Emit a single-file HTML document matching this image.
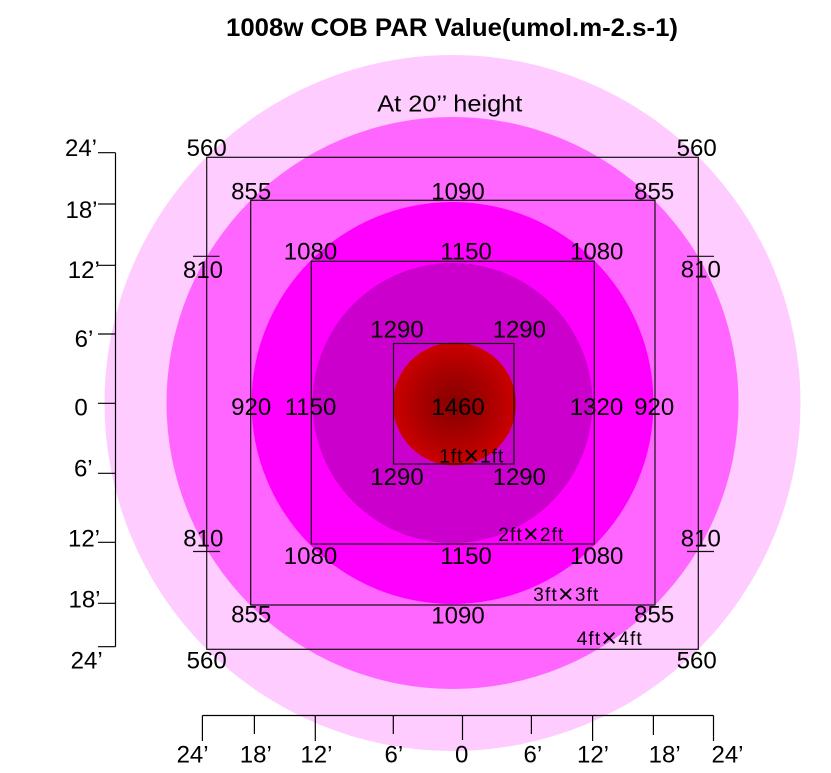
<!DOCTYPE html>
<html>
<head>
<meta charset="utf-8">
<style>
html,body{margin:0;padding:0;background:#fff;}
svg{display:block;}
text{font-family:"Liberation Sans","Noto Sans CJK SC",sans-serif;fill:#000;}
</style>
</head>
<body>
<svg width="831" height="773" viewBox="0 0 831 773" xmlns="http://www.w3.org/2000/svg">
<defs>
<radialGradient id="rg" cx="50%" cy="50%" r="50%">
<stop offset="0%" stop-color="#860000"/>
<stop offset="55%" stop-color="#a80000"/>
<stop offset="100%" stop-color="#cc0000"/>
</radialGradient>
</defs>
<rect width="831" height="773" fill="#fff"/>
<!-- circles -->
<circle cx="452.5" cy="403" r="348" fill="#ffccff"/>
<circle cx="452.5" cy="403" r="286" fill="#ff66ff"/>
<circle cx="452.5" cy="403" r="201" fill="#ff00ff"/>
<circle cx="452.5" cy="403" r="140" fill="#cc00cc"/>
<circle cx="454.5" cy="404" r="61.5" fill="url(#rg)"/>
<!-- rectangles -->
<g fill="none" stroke="#111" stroke-width="1.2">
<rect x="206.7" y="157.3" width="491.6" height="492"/>
<rect x="250.7" y="200.3" width="404.3" height="404.7"/>
<rect x="311.3" y="261.3" width="283" height="282.7"/>
<rect x="393.5" y="343.5" width="120.5" height="120.5"/>
<!-- 810 bars -->
<line x1="193" y1="256.3" x2="219.5" y2="256.3"/>
<line x1="687" y1="256.3" x2="714" y2="256.3"/>
<line x1="193" y1="551.5" x2="220" y2="551.5"/>
<line x1="687" y1="551.5" x2="714" y2="551.5"/>
</g>
<!-- axes -->
<g fill="none" stroke="#000" stroke-width="1.2">
<line x1="115.5" y1="152.7" x2="115.5" y2="646.7"/>
<line x1="98" y1="152.7" x2="115.5" y2="152.7"/>
<line x1="98" y1="204" x2="115.5" y2="204"/>
<line x1="98" y1="265.3" x2="115.5" y2="265.3"/>
<line x1="98" y1="334" x2="115.5" y2="334"/>
<line x1="98" y1="403.3" x2="115.5" y2="403.3"/>
<line x1="98" y1="473.3" x2="115.5" y2="473.3"/>
<line x1="98" y1="542.3" x2="115.5" y2="542.3"/>
<line x1="98" y1="603.3" x2="115.5" y2="603.3"/>
<line x1="98" y1="646.7" x2="115.5" y2="646.7"/>
<line x1="202.4" y1="715.5" x2="713.5" y2="715.5"/>
<line x1="202.4" y1="715.5" x2="202.4" y2="741"/>
<line x1="254.4" y1="715.5" x2="254.4" y2="734"/>
<line x1="315.3" y1="715.5" x2="315.3" y2="741"/>
<line x1="393.3" y1="715.5" x2="393.3" y2="734"/>
<line x1="462.5" y1="715.5" x2="462.5" y2="740"/>
<line x1="531.4" y1="715.5" x2="531.4" y2="734"/>
<line x1="592.6" y1="715.5" x2="592.6" y2="741"/>
<line x1="653.4" y1="715.5" x2="653.4" y2="735"/>
<line x1="713.5" y1="715.5" x2="713.5" y2="741"/>
</g>
<!-- title -->
<text x="452" y="36" font-size="25" font-weight="bold" text-anchor="middle" textLength="452" lengthAdjust="spacingAndGlyphs">1008w COB PAR Value(umol.m-2.s-1)</text>
<text x="449.8" y="111.7" font-size="23" text-anchor="middle" textLength="145" lengthAdjust="spacingAndGlyphs">At 20’’ height</text>
<!-- values -->
<g font-size="24" text-anchor="middle">
<text x="206.7" y="156">560</text>
<text x="696.7" y="156">560</text>
<text x="206.7" y="668.3">560</text>
<text x="696.7" y="668.3">560</text>
<text x="251.2" y="199.3">855</text>
<text x="654.2" y="199.3">855</text>
<text x="251.2" y="622.7">855</text>
<text x="654.2" y="622.7">855</text>
<text x="458" y="199.3">1090</text>
<text x="458" y="623.3">1090</text>
<text x="310.5" y="259.3">1080</text>
<text x="596.7" y="259.3">1080</text>
<text x="310.5" y="564">1080</text>
<text x="596.7" y="564">1080</text>
<text x="466" y="259.3">1150</text>
<text x="466" y="564">1150</text>
<text x="203" y="278">810</text>
<text x="700.8" y="277.7">810</text>
<text x="203.3" y="546.7">810</text>
<text x="700.8" y="546.7">810</text>
<text x="397" y="337.7">1290</text>
<text x="519.3" y="337.7">1290</text>
<text x="397" y="485">1290</text>
<text x="519.3" y="485">1290</text>
<text x="251.2" y="415">920</text>
<text x="310.5" y="415">1150</text>
<text x="458" y="415">1460</text>
<text x="596.5" y="415">1320</text>
<text x="654.2" y="415">920</text>
</g>
<g font-size="19" text-anchor="middle">
<text x="471.3" y="462.7" textLength="64" lengthAdjust="spacing">1ft<tspan font-size="27" dy="2">×</tspan><tspan dy="-2">1ft</tspan></text>
<text x="530.8" y="541" textLength="65" lengthAdjust="spacing">2ft<tspan font-size="27" dy="2">×</tspan><tspan dy="-2">2ft</tspan></text>
<text x="565.8" y="601" textLength="65" lengthAdjust="spacing">3ft<tspan font-size="27" dy="2">×</tspan><tspan dy="-2">3ft</tspan></text>
<text x="609.2" y="645" textLength="65" lengthAdjust="spacing">4ft<tspan font-size="27" dy="2">×</tspan><tspan dy="-2">4ft</tspan></text>
</g>
<!-- left axis labels -->
<g font-size="24" text-anchor="middle">
<text x="81" y="156">24’</text>
<text x="81.5" y="218">18’</text>
<text x="83.8" y="278">12’</text>
<text x="84" y="347">6’</text>
<text x="81" y="415.7">0</text>
<text x="83.3" y="476.7">6’</text>
<text x="84" y="546.7">12’</text>
<text x="84.5" y="607.3">18’</text>
<text x="86.7" y="668.3">24’</text>
</g>
<!-- bottom axis labels -->
<g font-size="24" text-anchor="middle">
<text x="192.6" y="762.7">24’</text>
<text x="255.8" y="762.7">18’</text>
<text x="316.4" y="762.7">12’</text>
<text x="393.9" y="762.7">6’</text>
<text x="461.7" y="762.7">0</text>
<text x="532.9" y="762.7">6’</text>
<text x="593" y="762.7">12’</text>
<text x="664.7" y="762.7">18’</text>
<text x="727.5" y="762.7">24’</text>
</g>
</svg>
</body>
</html>
